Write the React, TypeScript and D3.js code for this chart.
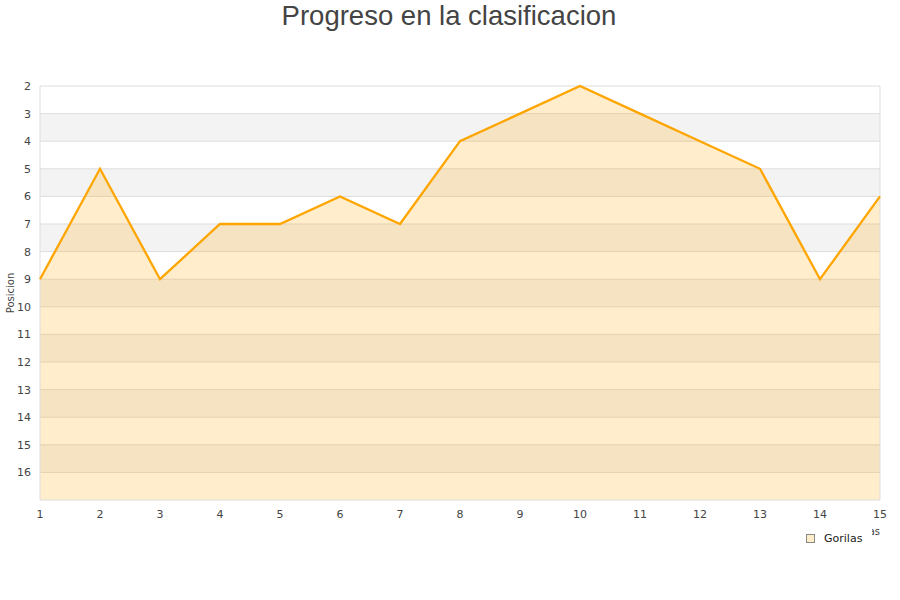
import React from "react";
import * as d3 from "d3";

const jornadas = [1, 2, 3, 4, 5, 6, 7, 8, 9, 10, 11, 12, 13, 14, 15];
const posiciones = [9, 5, 9, 7, 7, 6, 7, 4, 3, 2, 3, 4, 5, 9, 6];
const yTicks = [2, 3, 4, 5, 6, 7, 8, 9, 10, 11, 12, 13, 14, 15, 16];
const seriesName = "Gorilas";
const title = "Progreso en la clasificacion";
const yTitle = "Posicion";
const xTitle = "Jornadas";

export default function App() {
  const W = 900, H = 600;
  const left = 40, right = 880, top = 86, bottom = 500;
  const x = d3.scaleLinear().domain([1, 15]).range([left, right]);
  const y = d3.scaleLinear().domain([2, 17]).range([top, bottom]);
  const pts = jornadas.map((j, i) => [j, posiciones[i]] as [number, number]);
  const line = d3.line<[number, number]>().x(d => x(d[0])).y(d => y(d[1]));
  const area = d3.area<[number, number]>().x(d => x(d[0])).y0(y(17)).y1(d => y(d[1]));
  const bands = d3.range(2, 17);
  const font = "DejaVu Sans, Verdana, sans-serif";
  return (
    <svg width={W} height={H} style={{ position: "absolute", left: 0, top: 0 }}>
      <rect width={W} height={H} fill="#fff" />
      <text x={449} y={25} textAnchor="middle" fontFamily="Liberation Sans, Arial, sans-serif" fontSize={27.5} fill="#444">{title}</text>
      {bands.map(b => (
        <rect key={b} x={left} y={y(b)} width={right - left} height={y(b + 1) - y(b)} fill={b % 2 === 1 ? "#f3f3f3" : "#ffffff"} />
      ))}
      {yTicks.map(t => (
        <line key={t} x1={left} x2={right} y1={y(t)} y2={y(t)} stroke="#dddddd" strokeWidth={1} />
      ))}
      <path d={area(pts) || ""} fill="#FFA500" fillOpacity={0.2} />
      <line x1={left} x2={left} y1={top} y2={bottom} stroke="#dddddd" />
      <line x1={right} x2={right} y1={top} y2={bottom} stroke="#dddddd" />
      <line x1={left} x2={right} y1={bottom} y2={bottom} stroke="#dddddd" />
      <path d={line(pts) || ""} fill="none" stroke="#FFA500" strokeWidth={2.3} strokeLinejoin="miter" />
      {yTicks.map(t => (
        <text key={t} x={31} y={y(t) + 4} textAnchor="end" fontFamily={font} fontSize={11} fill="#444">{t}</text>
      ))}
      {jornadas.map(j => (
        <text key={j} x={x(j)} y={518} textAnchor="middle" fontFamily={font} fontSize={11} fill="#444">{j}</text>
      ))}
      <text transform={`translate(14,293) rotate(-90)`} textAnchor="middle" fontFamily={font} fontSize={10} fill="#444">{yTitle}</text>
      <text x={880} y={535} textAnchor="end" fontFamily={font} fontSize={10} fill="#444">{xTitle}</text>
      <rect x={798} y={526} width={74} height={22} fill="#fff" />
      <rect x={806.5} y={534.5} width={8} height={8} fill="#FFECC8" stroke="#888" strokeWidth={1} />
      <text x={824} y={542} fontFamily={font} fontSize={11} fill="#222">{seriesName}</text>
    </svg>
  );
}
